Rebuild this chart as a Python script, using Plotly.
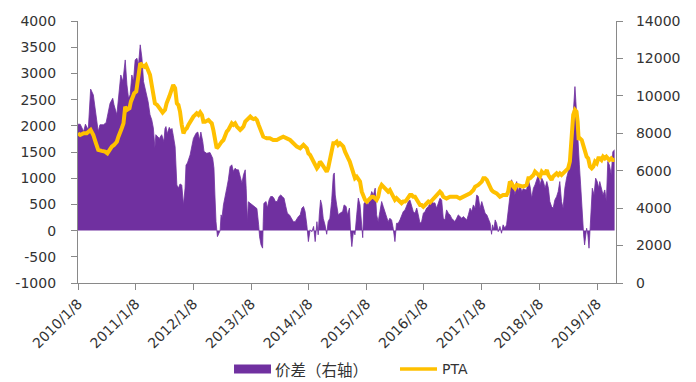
import plotly.graph_objects as go

# 价差 (spread), plotted against the left scale
spread_dates = [
    "2010-01-08", "2010-01-22", "2010-02-13", "2010-02-24", "2010-03-14", "2010-03-29", "2010-04-15", "2010-05-02",
    "2010-05-16", "2010-05-27", "2010-06-18", "2010-07-05", "2010-07-19", "2010-07-30", "2010-08-16", "2010-08-24",
    "2010-09-11", "2010-09-21", "2010-10-06", "2010-10-19", "2010-11-03", "2010-11-14", "2010-11-24", "2010-12-04",
    "2010-12-15", "2010-12-25", "2011-01-05", "2011-01-16", "2011-01-26", "2011-02-06", "2011-02-17", "2011-02-27",
    "2011-03-14", "2011-03-28", "2011-04-09", "2011-04-20", "2011-04-30", "2011-05-10", "2011-05-16", "2011-05-24",
    "2011-06-07", "2011-06-22", "2011-07-06", "2011-07-13", "2011-07-19", "2011-07-27", "2011-08-09", "2011-08-18",
    "2011-08-26", "2011-09-03", "2011-09-15", "2011-09-26", "2011-10-06", "2011-10-16", "2011-10-27", "2011-11-07",
    "2011-11-17", "2011-11-23", "2011-12-02", "2011-12-19", "2011-12-29", "2012-01-09", "2012-01-26", "2012-02-06",
    "2012-02-16", "2012-02-25", "2012-03-08", "2012-03-16", "2012-04-02", "2012-04-23", "2012-05-10", "2012-05-18",
    "2012-05-24", "2012-05-31", "2012-06-09", "2012-06-18", "2012-06-26", "2012-07-02", "2012-07-08", "2012-07-17",
    "2012-07-27", "2012-08-07", "2012-08-17", "2012-08-28", "2012-09-08", "2012-09-18", "2012-09-29", "2012-10-10",
    "2012-10-20", "2012-10-31", "2012-11-11", "2012-11-21", "2012-12-02", "2012-12-08", "2012-12-16", "2012-12-22",
    "2013-01-03", "2013-01-24", "2013-02-04", "2013-02-14", "2013-02-25", "2013-03-03", "2013-03-12", "2013-03-22",
    "2013-03-26", "2013-03-30", "2013-04-13", "2013-04-21", "2013-05-02", "2013-05-12", "2013-05-24", "2013-06-02",
    "2013-06-11", "2013-06-23", "2013-07-04", "2013-07-15", "2013-07-25", "2013-08-05", "2013-08-16", "2013-08-26",
    "2013-09-08", "2013-09-20", "2013-10-03", "2013-10-14", "2013-10-25", "2013-11-04", "2013-11-15", "2013-11-26",
    "2013-12-06", "2013-12-16", "2013-12-27", "2014-01-06", "2014-01-17", "2014-01-28", "2014-02-08", "2014-02-18",
    "2014-03-01", "2014-03-09", "2014-03-16", "2014-03-24", "2014-04-01", "2014-04-10", "2014-04-21", "2014-05-02",
    "2014-05-11", "2014-05-22", "2014-06-02", "2014-06-13", "2014-06-19", "2014-06-25", "2014-07-04", "2014-07-14",
    "2014-07-25", "2014-08-11", "2014-08-20", "2014-09-02", "2014-09-10", "2014-09-23", "2014-10-01", "2014-10-08",
    "2014-10-18", "2014-10-28", "2014-11-08", "2014-11-18", "2014-11-29", "2014-12-10", "2014-12-16", "2014-12-24",
    "2015-01-06", "2015-01-21", "2015-01-31", "2015-02-11", "2015-02-22", "2015-03-05", "2015-03-14", "2015-03-24",
    "2015-04-04", "2015-04-15", "2015-04-25", "2015-05-05", "2015-05-16", "2015-05-26", "2015-06-06", "2015-06-17",
    "2015-06-27", "2015-07-08", "2015-07-18", "2015-07-29", "2015-08-09", "2015-08-19", "2015-08-30", "2015-09-10",
    "2015-09-20", "2015-10-01", "2015-10-11", "2015-10-22", "2015-11-01", "2015-11-12", "2015-11-23", "2015-12-03",
    "2015-12-14", "2015-12-24", "2016-01-04", "2016-01-15", "2016-01-25", "2016-02-05", "2016-02-15", "2016-02-26",
    "2016-03-07", "2016-03-17", "2016-03-28", "2016-04-08", "2016-04-18", "2016-04-29", "2016-05-09", "2016-05-20",
    "2016-05-30", "2016-06-10", "2016-06-21", "2016-07-01", "2016-07-11", "2016-07-22", "2016-08-02", "2016-08-12",
    "2016-08-23", "2016-09-03", "2016-09-13", "2016-09-24", "2016-10-05", "2016-10-15", "2016-10-26", "2016-11-05",
    "2016-11-16", "2016-11-27", "2016-12-07", "2016-12-17", "2016-12-28", "2017-01-08", "2017-01-18", "2017-01-29",
    "2017-02-09", "2017-02-19", "2017-03-02", "2017-03-11", "2017-03-17", "2017-03-25", "2017-04-03", "2017-04-12",
    "2017-04-22", "2017-05-03", "2017-05-13", "2017-05-23", "2017-06-03", "2017-06-14", "2017-06-24", "2017-07-05",
    "2017-07-16", "2017-07-26", "2017-08-06", "2017-08-17", "2017-08-27", "2017-09-07", "2017-09-18", "2017-09-28",
    "2017-10-09", "2017-10-19", "2017-10-30", "2017-11-10", "2017-11-20", "2017-12-01", "2017-12-11", "2017-12-22",
    "2018-01-01", "2018-01-12", "2018-01-23", "2018-02-02", "2018-02-13", "2018-02-24", "2018-03-06", "2018-03-15",
    "2018-03-26", "2018-04-05", "2018-04-16", "2018-04-27", "2018-05-07", "2018-05-17", "2018-05-28", "2018-06-07",
    "2018-06-18", "2018-06-29", "2018-07-09", "2018-07-20", "2018-07-30", "2018-08-06", "2018-08-14", "2018-08-21",
    "2018-08-27", "2018-09-02", "2018-09-11", "2018-09-18", "2018-09-26", "2018-10-03", "2018-10-09", "2018-10-15",
    "2018-10-21", "2018-10-28", "2018-11-03", "2018-11-11", "2018-11-18", "2018-11-24", "2018-12-01", "2018-12-09",
    "2018-12-20", "2018-12-30", "2019-01-09", "2019-01-19", "2019-01-25", "2019-02-05", "2019-02-15", "2019-02-26",
    "2019-03-08", "2019-03-17", "2019-03-27", "2019-04-08", "2019-04-18", "2019-04-29",
]
spread_values = [
    2030, 2030, 1890, 2030, 1920, 2700, 2590, 2210,
    1890, 2020, 2020, 2060, 2270, 2430, 2525, 2400,
    2210, 2500, 2970, 2845, 3257, 2780, 2525, 2590,
    2970, 2845, 3257, 3290, 3160, 3545, 3290, 2845,
    2650, 2460, 2210, 2115, 1960, 1580, 1830, 1800,
    1760, 1830, 1700, 1950, 1985, 1845, 1970, 1920,
    1950, 1820, 1600, 870, 810, 890, 870, 490,
    810, 1250, 1290, 1445, 1635, 1760, 1860, 1880,
    1730, 1880, 1700, 1510, 1475, 1490, 1380, 1190,
    680, 170, -115, -50, 0, 300, 240, 490,
    620, 810, 970, 1220, 1255, 1130, 1190, 1160,
    1160, 1000, 905, 1065, 1160, 810, 170, 550,
    520, 460, 440, 420, 110, -120, -270, -335,
    170, 520, 555, 430, 585, 650, 650, 615,
    555, 555, 650, 680, 650, 615, 460, 330,
    300, 235, 170, 170, 235, 270, 300, 430,
    460, 365, 110, -210, 15, -20, 80, -210,
    170, -80, 300, 585, 490, 235, 110, -70,
    170, 235, 555, 1065, 1100, 680, 490, 300,
    330, 365, 490, 460, 300, 430, -70, -305,
    -20, -80, 300, 620, 490, 170, -135, 520,
    555, 490, 620, 745, 680, 810, 300, 170,
    365, 555, 460, 365, 235, 170, 235, 200,
    45, -210, 140, 140, 205, 300, 365, 395,
    490, 555, 585, 490, 365, 330, 430, 300,
    140, 170, 330, 365, 430, 460, 520, 585,
    520, 530, 427, 554, 618, 586, 236, 204,
    395, 332, 300, 236, 204, 172, 236, 300,
    268, 236, 268, 236, 204, 300, 427, 364,
    490, 427, 681, 650, 427, 554, 427, 332,
    300, 236, 140, -70, 110, 20, 204, 140,
    -20, 80, -50, 110, 45, 110, 330, 650,
    970, 870, 680, 935, 745, 870, 745, 800,
    780, 780, 967, 840, 618, 809, 872, 967,
    1063, 872, 1000, 936, 809, 936, 809, 554,
    459, 427, 586, 650, 745, 936, 554, 427,
    809, 1000, 1127, 1254, 1700, 2080, 2460, 2748,
    2460, 2080, 1635, 1254, 872, 459, 172, -82,
    -273, -20, 45, -82, -336, -20, 300, 809,
    681, 1000, 936, 809, 936, 809, 681, 776,
    554, 1317, 1254, 1063, 1508, 1540,
]

# PTA price, plotted against the right scale
pta_dates = [
    "2010-01-08", "2010-01-22", "2010-02-13", "2010-03-04", "2010-03-29", "2010-04-15", "2010-05-02", "2010-05-16",
    "2010-06-07", "2010-06-28", "2010-07-13", "2010-07-25", "2010-08-10", "2010-08-24", "2010-09-11", "2010-09-21",
    "2010-10-06", "2010-10-12", "2010-10-23", "2010-10-27", "2010-11-03", "2010-11-14", "2010-11-30", "2010-12-09",
    "2010-12-19", "2010-12-30", "2011-01-12", "2011-01-26", "2011-02-06", "2011-02-17", "2011-03-03", "2011-03-14",
    "2011-03-28", "2011-04-09", "2011-04-20", "2011-04-30", "2011-05-10", "2011-05-24", "2011-06-11", "2011-06-28",
    "2011-07-13", "2011-07-23", "2011-08-09", "2011-08-24", "2011-09-03", "2011-09-15", "2011-09-26", "2011-10-06",
    "2011-10-16", "2011-10-27", "2011-11-07", "2011-11-17", "2011-11-28", "2011-12-08", "2011-12-19", "2011-12-29",
    "2012-01-09", "2012-01-20", "2012-01-30", "2012-02-10", "2012-02-21", "2012-03-03", "2012-03-12", "2012-03-23",
    "2012-04-02", "2012-04-13", "2012-04-23", "2012-05-04", "2012-05-14", "2012-05-24", "2012-06-04", "2012-06-15",
    "2012-06-26", "2012-07-06", "2012-07-17", "2012-07-27", "2012-08-07", "2012-08-17", "2012-08-28", "2012-09-08",
    "2012-09-18", "2012-09-29", "2012-10-10", "2012-10-20", "2012-10-31", "2012-11-11", "2012-11-21", "2012-12-02",
    "2012-12-13", "2012-12-22", "2013-01-03", "2013-01-14", "2013-01-24", "2013-02-04", "2013-02-14", "2013-02-25",
    "2013-03-07", "2013-03-17", "2013-03-26", "2013-04-17", "2013-05-07", "2013-05-28", "2013-06-20", "2013-07-10",
    "2013-07-31", "2013-08-22", "2013-09-12", "2013-10-03", "2013-10-25", "2013-11-15", "2013-12-06", "2013-12-27",
    "2014-01-06", "2014-01-17", "2014-01-28", "2014-02-08", "2014-02-18", "2014-03-01", "2014-03-09", "2014-03-20",
    "2014-03-29", "2014-04-10", "2014-04-21", "2014-05-02", "2014-05-11", "2014-05-22", "2014-06-02", "2014-06-13",
    "2014-06-23", "2014-07-04", "2014-07-14", "2014-07-25", "2014-08-05", "2014-08-15", "2014-08-26", "2014-09-02",
    "2014-09-15", "2014-09-25", "2014-10-08", "2014-10-18", "2014-10-28", "2014-11-08", "2014-11-18", "2014-11-29",
    "2014-12-10", "2014-12-20", "2014-12-31", "2015-01-11", "2015-01-21", "2015-01-31", "2015-02-11", "2015-02-22",
    "2015-03-05", "2015-03-14", "2015-03-24", "2015-04-04", "2015-04-15", "2015-04-25", "2015-05-05", "2015-05-16",
    "2015-05-26", "2015-06-06", "2015-06-17", "2015-06-27", "2015-07-08", "2015-07-18", "2015-07-29", "2015-08-09",
    "2015-08-19", "2015-08-30", "2015-09-10", "2015-09-20", "2015-10-01", "2015-10-11", "2015-10-22", "2015-11-01",
    "2015-11-12", "2015-11-23", "2015-12-03", "2015-12-14", "2015-12-24", "2016-01-04", "2016-01-15", "2016-01-25",
    "2016-02-05", "2016-02-15", "2016-02-26", "2016-03-07", "2016-03-17", "2016-03-28", "2016-04-18", "2016-04-29",
    "2016-05-09", "2016-05-30", "2016-06-21", "2016-07-11", "2016-08-02", "2016-08-23", "2016-09-13", "2016-10-05",
    "2016-10-26", "2016-11-16", "2016-11-27", "2016-12-17", "2016-12-28", "2017-01-08", "2017-01-18", "2017-01-29",
    "2017-02-09", "2017-02-19", "2017-03-02", "2017-03-11", "2017-03-21", "2017-04-12", "2017-05-03", "2017-05-23",
    "2017-06-14", "2017-06-24", "2017-07-05", "2017-07-16", "2017-07-26", "2017-08-06", "2017-08-17", "2017-09-07",
    "2017-09-28", "2017-10-19", "2017-10-30", "2017-11-10", "2017-11-20", "2017-12-01", "2017-12-11", "2017-12-22",
    "2018-01-01", "2018-01-12", "2018-01-23", "2018-02-02", "2018-02-13", "2018-02-24", "2018-03-06", "2018-03-15",
    "2018-03-26", "2018-04-05", "2018-04-16", "2018-04-27", "2018-05-07", "2018-05-17", "2018-05-28", "2018-06-07",
    "2018-06-18", "2018-06-29", "2018-07-09", "2018-07-20", "2018-07-26", "2018-08-02", "2018-08-10", "2018-08-21",
    "2018-08-31", "2018-09-07", "2018-09-13", "2018-09-21", "2018-10-03", "2018-10-12", "2018-10-23", "2018-11-03",
    "2018-11-13", "2018-11-24", "2018-12-05", "2018-12-15", "2018-12-26", "2019-01-06", "2019-01-16", "2019-01-25",
    "2019-02-05", "2019-02-15", "2019-02-26", "2019-03-08", "2019-03-17", "2019-03-27", "2019-04-08", "2019-04-18",
    "2019-04-29",
]
pta_values = [
    8000, 7910, 8000, 8000, 8180, 7910, 7465, 7110,
    7060, 7020, 6930, 7110, 7290, 7376, 7550, 7820,
    8090, 8270, 8530, 9160, 9420, 9250, 9340, 9690,
    9870, 10140, 10230, 11120, 11740, 11650, 11560, 11650,
    11380, 11120, 10580, 10050, 9600, 9520, 9340, 9110,
    9250, 9600, 9960, 10320, 10580, 10410, 9600, 9510,
    9160, 8450, 8000, 8180, 8270, 8450, 8620, 8710,
    8890, 8980, 9070, 8980, 9120, 8980, 8620, 8620,
    8650, 8710, 8620, 8530, 8180, 7550, 7200, 7290,
    7470, 7550, 7640, 7910, 8090, 8180, 8360, 8530,
    8450, 8530, 8360, 8270, 8180, 8270, 8360, 8620,
    8710, 8800, 8890, 8800, 8760, 8800, 8710, 8450,
    8180, 7910, 7820, 7730, 7730, 7640, 7640, 7730,
    7820, 7730, 7640, 7470, 7290, 7200, 7380, 7200,
    6930, 6840, 6660, 6490, 6310, 6130, 6220, 6490,
    6400, 6220, 6040, 5950, 6130, 6670, 7200, 7470,
    7470, 7550, 7380, 7470, 7380, 7290, 7020, 6840,
    6660, 6490, 6130, 5770, 5600, 5680, 5510, 5420,
    4880, 4610, 4440, 4350, 4440, 4530, 4610, 4610,
    4530, 4440, 4610, 5060, 5240, 5150, 5060, 4970,
    4880, 4970, 4790, 4530, 4440, 4530, 4440, 4350,
    4260, 4350, 4350, 4440, 4610, 4700, 4700, 4610,
    4610, 4440, 4260, 4170, 4170, 4080, 4170, 4260,
    4350, 4300, 4400, 4450, 4600, 4700, 4880, 4790,
    4610, 4520, 4610, 4610, 4610, 4520, 4610, 4700,
    4790, 4970, 5150, 5240, 5330, 5420, 5600, 5600,
    5510, 5330, 5060, 4970, 4880, 4790, 4610, 4700,
    4700, 4880, 5420, 5330, 5150, 5060, 5240, 5200,
    5150, 5240, 5600, 5600, 5690, 5770, 5950, 5860,
    5770, 5690, 5950, 5860, 5860, 6040, 5770, 5600,
    5510, 5690, 5770, 5860, 5770, 5860, 5770, 5860,
    5950, 6040, 6130, 6490, 7200, 8270, 8980, 9250,
    9160, 8620, 7730, 7730, 7640, 7380, 7020, 6750,
    6660, 6220, 6130, 6220, 6490, 6400, 6660, 6660,
    6570, 6750, 6660, 6750, 6660, 6570, 6660, 6570,
    6570,
]

# Axis ticks
x_tick_dates = ["2010-01-08", "2011-01-08", "2012-01-08", "2013-01-08", "2014-01-08",
                "2015-01-08", "2016-01-08", "2017-01-08", "2018-01-08", "2019-01-08"]
x_tick_labels = ["2010/1/8", "2011/1/8", "2012/1/8", "2013/1/8", "2014/1/8",
                 "2015/1/8", "2016/1/8", "2017/1/8", "2018/1/8", "2019/1/8"]
left_ticks = [-1000, -500, 0, 500, 1000, 1500, 2000, 2500, 3000, 3500, 4000]
right_ticks = [0, 2000, 4000, 6000, 8000, 10000, 12000, 14000]

spread_name = "价差（右轴）"
pta_name = "PTA"

PURPLE = "#7030A0"
GOLD = "#FFC000"
AXIS = "#898989"
TEXT = "#333333"
FONT = "DejaVu Sans, Verdana, sans-serif"
CJK = "Noto Sans CJK SC, DejaVu Sans, sans-serif"

fig = go.Figure()

fig.add_trace(go.Scatter(
    x=spread_dates, y=spread_values, name=spread_name,
    mode="lines", fill="tozeroy", fillcolor=PURPLE,
    line=dict(color=PURPLE, width=0.8), yaxis="y",
    showlegend=False,
))
fig.add_trace(go.Scatter(
    x=pta_dates, y=pta_values, name=pta_name,
    mode="lines", line=dict(color=GOLD, width=4), yaxis="y2",
    showlegend=False,
))

tickfont = dict(family=FONT, size=14, color=TEXT)

fig.update_layout(
    width=696, height=382,
    margin=dict(l=78, r=80, t=21, b=99),
    paper_bgcolor="white", plot_bgcolor="white",
    xaxis=dict(
        type="date", range=["2010-01-08", "2019-05-08"],
        tickmode="array", tickvals=x_tick_dates, ticktext=x_tick_labels,
        tickangle=-45, tickfont=tickfont,
        showline=True, linecolor=AXIS, linewidth=1.3,
        ticks="outside", ticklen=6, tickcolor=AXIS, tickwidth=1.3,
        showgrid=False, zeroline=False, automargin=False,
    ),
    yaxis=dict(
        range=[-1000, 4000], tickmode="array", tickvals=left_ticks,
        ticktext=[str(v) for v in left_ticks], tickfont=tickfont,
        showline=True, linecolor=AXIS, linewidth=1.3,
        ticks="outside", ticklen=6, tickcolor=AXIS, tickwidth=1.3,
        ticklabelstandoff=12,
        showgrid=False, zeroline=False, automargin=False,
    ),
    yaxis2=dict(
        range=[0, 14000], overlaying="y", side="right",
        tickmode="array", tickvals=right_ticks,
        ticktext=[str(v) for v in right_ticks], tickfont=tickfont,
        showline=True, linecolor=AXIS, linewidth=1.3,
        ticks="outside", ticklen=6, tickcolor=AXIS, tickwidth=1.3,
        ticklabelstandoff=10,
        showgrid=False, zeroline=False, automargin=False,
    ),
)

# Legend drawn beneath the plot: filled swatch for the spread, line for PTA
legend_y = -0.328
fig.add_shape(type="rect", xref="paper", yref="paper",
              x0=0.290, x1=0.3587, y0=-0.3454, y1=-0.3111,
              fillcolor=PURPLE, line=dict(width=0))
fig.add_shape(type="line", xref="paper", yref="paper",
              x0=0.5985, x1=0.6673, y0=legend_y, y1=legend_y,
              line=dict(color=GOLD, width=3.6))
fig.add_annotation(x=0.3625, y=legend_y, xref="paper", yref="paper",
                   text=spread_name, showarrow=False, xanchor="left", yanchor="middle",
                   font=dict(family=CJK, size=15.5, color=TEXT))
fig.add_annotation(x=0.6729, y=legend_y, xref="paper", yref="paper",
                   text=pta_name, showarrow=False, xanchor="left", yanchor="middle",
                   font=dict(family=FONT, size=14, color=TEXT))

fig.write_html("out.html")
